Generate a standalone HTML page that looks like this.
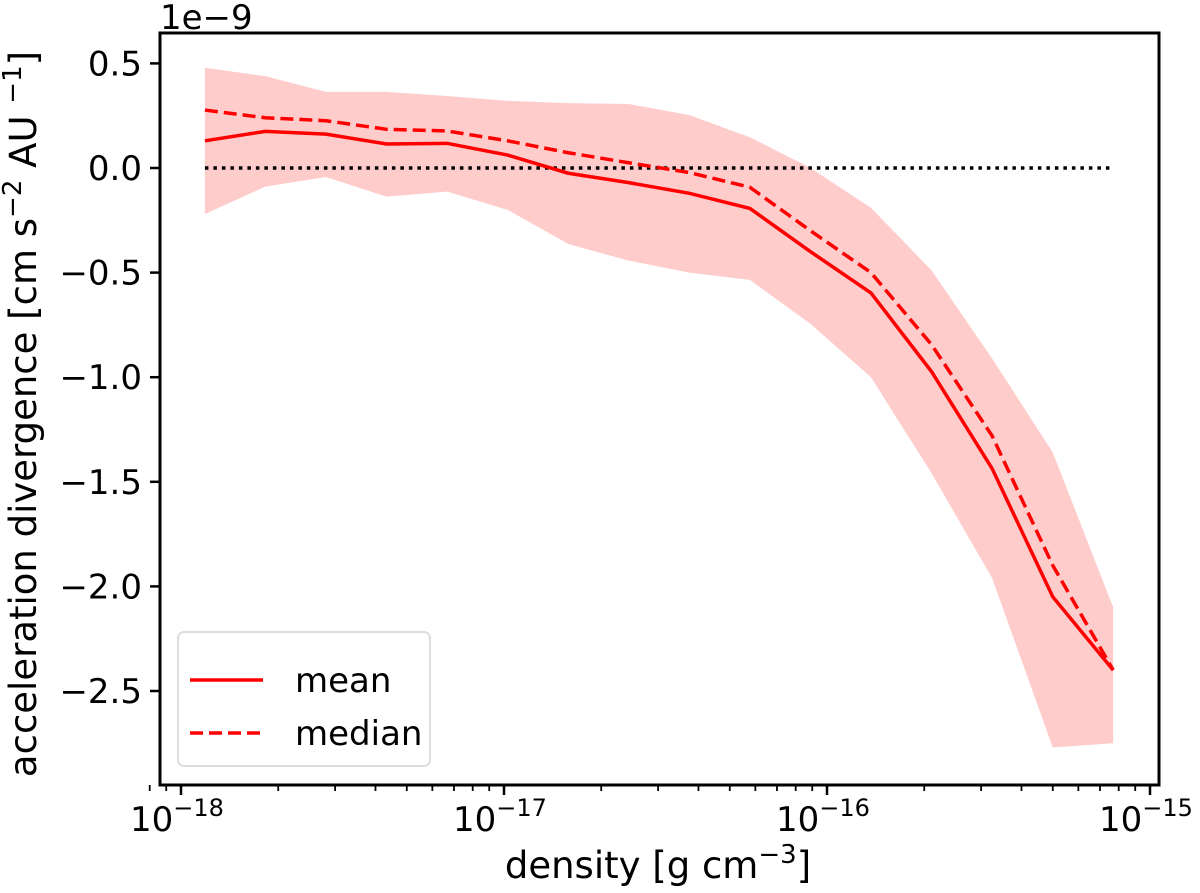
<!DOCTYPE html>
<html><head><meta charset="utf-8"><style>
body{margin:0;background:#fff}
svg text{font-family:"DejaVu Sans","Liberation Sans",sans-serif;fill:#000}
</style></head><body>
<svg id="chart" width="1200" height="888" xmlns="http://www.w3.org/2000/svg">
<g id="plot"></g>
</svg>
<script>
const logDensity=[-17.926,-17.739,-17.551,-17.364,-17.176,-16.989,-16.801,-16.614,-16.426,-16.239,-16.051,-15.864,-15.676,-15.489,-15.301,-15.114];
const meanVals=[0.13,0.175,0.162,0.115,0.118,0.062,-0.025,-0.07,-0.121,-0.193,-0.40,-0.597,-0.974,-1.436,-2.05,-2.40];
const medianVals=[0.277,0.24,0.226,0.185,0.177,0.13,0.073,0.025,-0.022,-0.092,-0.30,-0.50,-0.845,-1.28,-1.90,-2.40];
const upperVals=[0.479,0.439,0.364,0.364,0.344,0.321,0.31,0.306,0.253,0.147,0.0,-0.19,-0.49,-0.91,-1.36,-2.10];
const lowerVals=[-0.22,-0.089,-0.043,-0.137,-0.113,-0.2,-0.363,-0.443,-0.5,-0.535,-0.745,-1.0,-1.46,-1.96,-2.77,-2.75];
const yTicks=[0.5,0.0,-0.5,-1.0,-1.5,-2.0,-2.5];
const yTickLabels=["0.5","0.0","\u22120.5","\u22121.0","\u22121.5","\u22122.0","\u22122.5"];
const xDecades=[-18,-17,-16,-15];

const L=160,R=1159,T=33,B=785;
const X=lg=>181+(lg+18)*323;
const Y=v=>168-v*209.2;
const NS="http://www.w3.org/2000/svg";
const g=document.getElementById('plot');
function mk(tag,attrs,parent){const e=document.createElementNS(NS,tag);for(const k in attrs)e.setAttribute(k,attrs[k]);(parent||g).appendChild(e);return e;}

let pts=logDensity.map((d,i)=>X(d)+','+Y(upperVals[i]));
for(let i=logDensity.length-1;i>=0;i--)pts.push(X(logDensity[i])+','+Y(lowerVals[i]));
const band=mk('polygon',{points:pts.join(' '),fill:'#ffcccc'});



const zl=mk('line',{x1:X(logDensity[0]),x2:X(logDensity[logDensity.length-1]),y1:Y(0),y2:Y(0),stroke:'#000','stroke-width':3.5,'stroke-dasharray':'3.5 5'});



const mean=mk('polyline',{points:logDensity.map((d,i)=>X(d)+','+Y(meanVals[i])).join(' '),fill:'none',stroke:'#ff0000','stroke-width':3.5});


const med=mk('polyline',{points:logDensity.map((d,i)=>X(d)+','+Y(medianVals[i])).join(' '),fill:'none',stroke:'#ff0000','stroke-width':3.5,'stroke-dasharray':'13 6'});



const fr=mk('rect',{x:L,y:T,width:R-L,height:B-T,fill:'none',stroke:'#000','stroke-width':3});



yTicks.forEach((v,i)=>{
  const t=mk('line',{x1:L-10,x2:L,y1:Y(v),y2:Y(v),stroke:'#000','stroke-width':2.5});
  
  
  const tx=mk('text',{x:L-18,y:Y(v)+12,'text-anchor':'end','font-size':34});
  tx.textContent=yTickLabels[i];
  
  
});
xDecades.forEach((d,i)=>{
  const t=mk('line',{x1:X(d),x2:X(d),y1:B,y2:B+10,stroke:'#000','stroke-width':2.5});
  
  
  const tx=mk('text',{x:X(d)-4,y:B+46,'text-anchor':'middle','font-size':34});
  tx.innerHTML='10<tspan dy="-15" font-size="24">\u2212'+(-d)+'</tspan>';
  
  
  if(i<xDecades.length-1){for(let m=2;m<10;m++){const xm=X(d+Math.log10(m));
    const mt=mk('line',{x1:xm,x2:xm,y1:B,y2:B+6,stroke:'#000','stroke-width':1.8});
    
    }}
  if(i==0){for(let m=8;m<10;m++){const xm=X(d-1+Math.log10(m));
    const mt=mk('line',{x1:xm,x2:xm,y1:B,y2:B+6,stroke:'#000','stroke-width':1.8});
    
    }}
});
</script>
<svg style="position:absolute;left:0;top:0" width="1200" height="888" xmlns="http://www.w3.org/2000/svg">
<text x="160" y="29" font-size="34">1e−9</text>
<text transform="translate(36,414) rotate(-90)" text-anchor="middle" font-size="37">acceleration divergence [cm s<tspan dy="-15" font-size="26">−2</tspan><tspan dy="15"> AU </tspan><tspan dy="-15" font-size="26">−1</tspan><tspan dy="15">]</tspan></text>
<text x="658" y="878" text-anchor="middle" font-size="37">density [g cm<tspan dy="-15" font-size="26">−3</tspan><tspan dy="15">]</tspan></text>
<g>
<rect x="178" y="632" width="252" height="134" rx="6" fill="#fff" stroke="#ddd" stroke-width="2"/>
<line x1="190" x2="263" y1="680" y2="680" stroke="#f00" stroke-width="3.5"/>
<text x="295" y="692" font-size="34">mean</text>
<line x1="190" x2="263" y1="733" y2="733" stroke="#f00" stroke-width="3.5" stroke-dasharray="13 6"/>
<text x="295" y="745" font-size="34">median</text>
</g>
</svg>
</body></html>
